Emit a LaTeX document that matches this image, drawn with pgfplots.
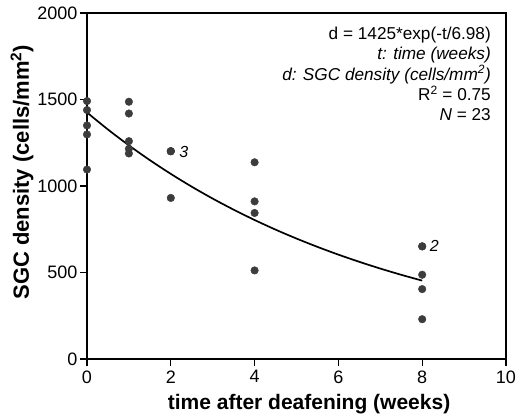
\documentclass[border=0pt]{standalone}
\usepackage{pgfplots}
\pgfplotsset{compat=1.18}
\usepackage{fontspec}
\setmainfont{Liberation Sans}
\definecolor{dotc}{HTML}{3C3C3C}
\begin{document}
\begin{tikzpicture}
\path[use as bounding box] (-87pt,-60pt) rectangle (430pt,359pt);
\begin{axis}[
  scale only axis,
  width=419pt, height=346pt,
  xmin=0, xmax=10, ymin=0, ymax=2000,
  xtick={0,2,4,6,8,10}, ytick={0,500,1000,1500,2000},
  xtick pos=left, ytick pos=left,
  tick align=outside,
  major tick length=7pt,
  axis line style={line width=1.1pt},
  tick style={line width=1.1pt, black},
  /pgf/number format/assume math mode=true,
  /pgf/number format/1000 sep={},
  ticklabel style={font=\fontsize{18}{20}\selectfont},
  xticklabel style={yshift=-1pt},
  yticklabel style={xshift=1pt},
  xlabel={time after deafening (weeks)},
  ylabel={SGC density (cells/mm\textsuperscript{2})},
  xlabel style={font=\fontsize{21}{24}\selectfont\bfseries, at={(axis description cs:0.53,0)}, anchor=base, yshift=-51pt},
  ylabel style={font=\fontsize{22}{24}\selectfont\bfseries, at={(axis description cs:-0.155,0.54)}, anchor=center},
  clip=false,
]
\addplot[only marks, mark=*, mark size=3.8pt, color=dotc] coordinates {
(0,1491) (0,1439) (0,1350) (0,1298) (0,1095)
(1,1487) (1,1419) (1,1259) (1,1215) (1,1188)
(2,1201) (2,1201) (2,1201) (2,931)
(4,1137) (4,911) (4,844) (4,512)
(8,651) (8,651) (8,487) (8,404) (8,230)
};
\addplot[black, line width=1.7pt, smooth] coordinates {
(0,1425) (0.5,1326.5) (1,1234.8) (1.5,1149.4) (2,1070.0) (2.5,996.0)
(3,927.1) (3.5,863.1) (4,803.4) (4.5,747.8) (5,696.2) (5.5,648.1)
(6,603.2) (6.5,561.6) (7,522.7) (7.5,486.6) (8,453.0)
};
\node[anchor=west, font=\fontsize{16}{18}\selectfont\itshape, inner sep=0pt] at (axis cs:2.2,1195) {3};
\node[anchor=west, font=\fontsize{16}{18}\selectfont\itshape, inner sep=0pt] at (axis cs:8.18,651) {2};
\node[anchor=north east, align=right, inner sep=0pt, font=\fontsize{17.2}{20.3}\selectfont] at ([xshift=-15pt,yshift=-14pt]rel axis cs:1,1)
{d = 1425*exp(-t/6.98)\\ \textit{t: time (weeks)}\\ \textit{d: SGC density (cells/mm\textsuperscript{2})}\\ R\textsuperscript{2} = 0.75\\ \textit{N} = 23};
\end{axis}
\end{tikzpicture}
\end{document}
